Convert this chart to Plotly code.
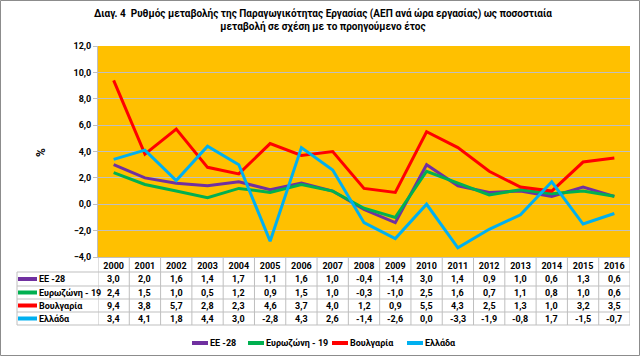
import plotly.graph_objects as go

years = [str(y) for y in range(2000, 2017)]
series_names = ["ΕΕ -28", "Ευρωζώνη - 19", "Βουλγαρία", "Ελλάδα"]
ee28 = [3.0, 2.0, 1.6, 1.4, 1.7, 1.1, 1.6, 1.0, -0.4, -1.4, 3.0, 1.4, 0.9, 1.0, 0.6, 1.3, 0.6]
eurozone = [2.4, 1.5, 1.0, 0.5, 1.2, 0.9, 1.5, 1.0, -0.3, -1.0, 2.5, 1.6, 0.7, 1.1, 0.8, 1.0, 0.6]
bulgaria = [9.4, 3.8, 5.7, 2.8, 2.3, 4.6, 3.7, 4.0, 1.2, 0.9, 5.5, 4.3, 2.5, 1.3, 1.0, 3.2, 3.5]
greece = [3.4, 4.1, 1.8, 4.4, 3.0, -2.8, 4.3, 2.6, -1.4, -2.6, 0.0, -3.3, -1.9, -0.8, 1.7, -1.5, -0.7]
colors = ["#7030A0", "#00B050", "#FF0000", "#00B0F0"]
title_lines = ["Διαγ. 4  Ρυθμός μεταβολής της Παραγωγικότητας Εργασίας (ΑΕΠ ανά ώρα εργασίας) ως ποσοστιαία",
               "μεταβολή σε σχέση με το προηγούμενο έτος"]

W, H = 640, 356
L, R, T, B = 98, 10, 46, 99
PW = W - L - R
PH = H - T - B
FONT = "Roboto"
GRID = "#BFBFBF"


def px_x(p):
    return (p - L) / PW


def px_y(p):
    return (H - B - p) / PH


def bold(size):
    return dict(size=size, family=FONT, color="black", weight="bold")


fig = go.Figure()
all_series = [ee28, eurozone, bulgaria, greece]
for name, vals, col in zip(series_names, all_series, colors):
    fig.add_trace(go.Scatter(x=years, y=vals, mode="lines", name=name,
                             line=dict(color=col, width=3), showlegend=False))

shapes = []
annotations = []

# data table grid
row_lines = [272, 286, 299, 312, 325]
for yl in row_lines:
    shapes.append(dict(type="line", xref="paper", yref="paper",
                       x0=px_x(17), x1=1, y0=px_y(yl), y1=px_y(yl),
                       line=dict(color=GRID, width=1)))
for i in range(len(years) + 1):
    shapes.append(dict(type="line", xref="x", yref="paper",
                       x0=i - 0.5, x1=i - 0.5, y0=px_y(H - B), y1=px_y(325),
                       line=dict(color=GRID, width=1)))
shapes.append(dict(type="line", xref="paper", yref="paper",
                   x0=px_x(17), x1=px_x(17), y0=px_y(272), y1=px_y(325),
                   line=dict(color=GRID, width=1)))

row_centers = [279, 292.5, 305.5, 318.5]
for r, (name, vals, col) in enumerate(zip(series_names, all_series, colors)):
    yc = px_y(row_centers[r])
    shapes.append(dict(type="line", xref="paper", yref="paper",
                       x0=px_x(18), x1=px_x(37), y0=yc, y1=yc,
                       line=dict(color=col, width=4)))
    annotations.append(dict(text=name, xref="paper", yref="paper",
                            x=px_x(37), y=yc, xanchor="left", yanchor="middle",
                            showarrow=False, font=bold(9)))
    for i, v in enumerate(vals):
        annotations.append(dict(text=f"{v:.1f}".replace(".", ","), xref="x", yref="paper",
                                x=i, y=yc, xanchor="center", yanchor="middle",
                                showarrow=False, font=bold(9)))

# custom legend at the bottom
legend_starts = [192, 248, 332, 407]
for name, col, x0 in zip(series_names, colors, legend_starts):
    yc = px_y(343)
    shapes.append(dict(type="line", xref="paper", yref="paper",
                       x0=px_x(x0), x1=px_x(x0 + 16), y0=yc, y1=yc,
                       line=dict(color=col, width=4)))
    annotations.append(dict(text=name, xref="paper", yref="paper",
                            x=px_x(x0 + 16), y=yc, xanchor="left", yanchor="middle",
                            showarrow=False, font=bold(9)))

# y axis title
annotations.append(dict(text="%", xref="paper", yref="paper", x=px_x(41), y=px_y(153),
                        textangle=-90, showarrow=False, xanchor="center", yanchor="middle",
                        font=bold(12)))

# title
annotations.append(dict(text="<br>".join(title_lines), xref="paper", yref="paper",
                        x=px_x(323), y=px_y(20), xanchor="center", yanchor="middle",
                        showarrow=False, align="center", font=bold(10)))

# outer border
shapes.append(dict(type="rect", xref="paper", yref="paper",
                   x0=px_x(0.5), x1=px_x(W - 0.5), y0=px_y(0.5), y1=px_y(H - 0.5),
                   line=dict(color="#8C8C8C", width=1)))

fig.update_layout(
    width=W, height=H,
    margin=dict(l=L, r=R, t=T, b=B),
    paper_bgcolor="white",
    plot_bgcolor="#FFC000",
    separators=",.",
    showlegend=False,
    shapes=shapes,
    annotations=annotations,
    font=dict(family=FONT),
)
fig.update_xaxes(type="category", range=[-0.5, len(years) - 0.5], showgrid=False,
                 showline=True, linecolor=GRID, ticks="", ticklen=0,
                 tickfont=bold(9))
fig.update_yaxes(range=[-4, 12], dtick=2, tickformat=".1f", showgrid=True, gridcolor=GRID,
                 zeroline=False, showline=True, linecolor=GRID, ticks="outside", ticklen=4,
                 tickcolor=GRID, tickfont=bold(9))

fig.write_html("out.html", config={"displayModeBar": False},
               post_script="document.body.style.margin='0';document.body.style.overflow='hidden';")
